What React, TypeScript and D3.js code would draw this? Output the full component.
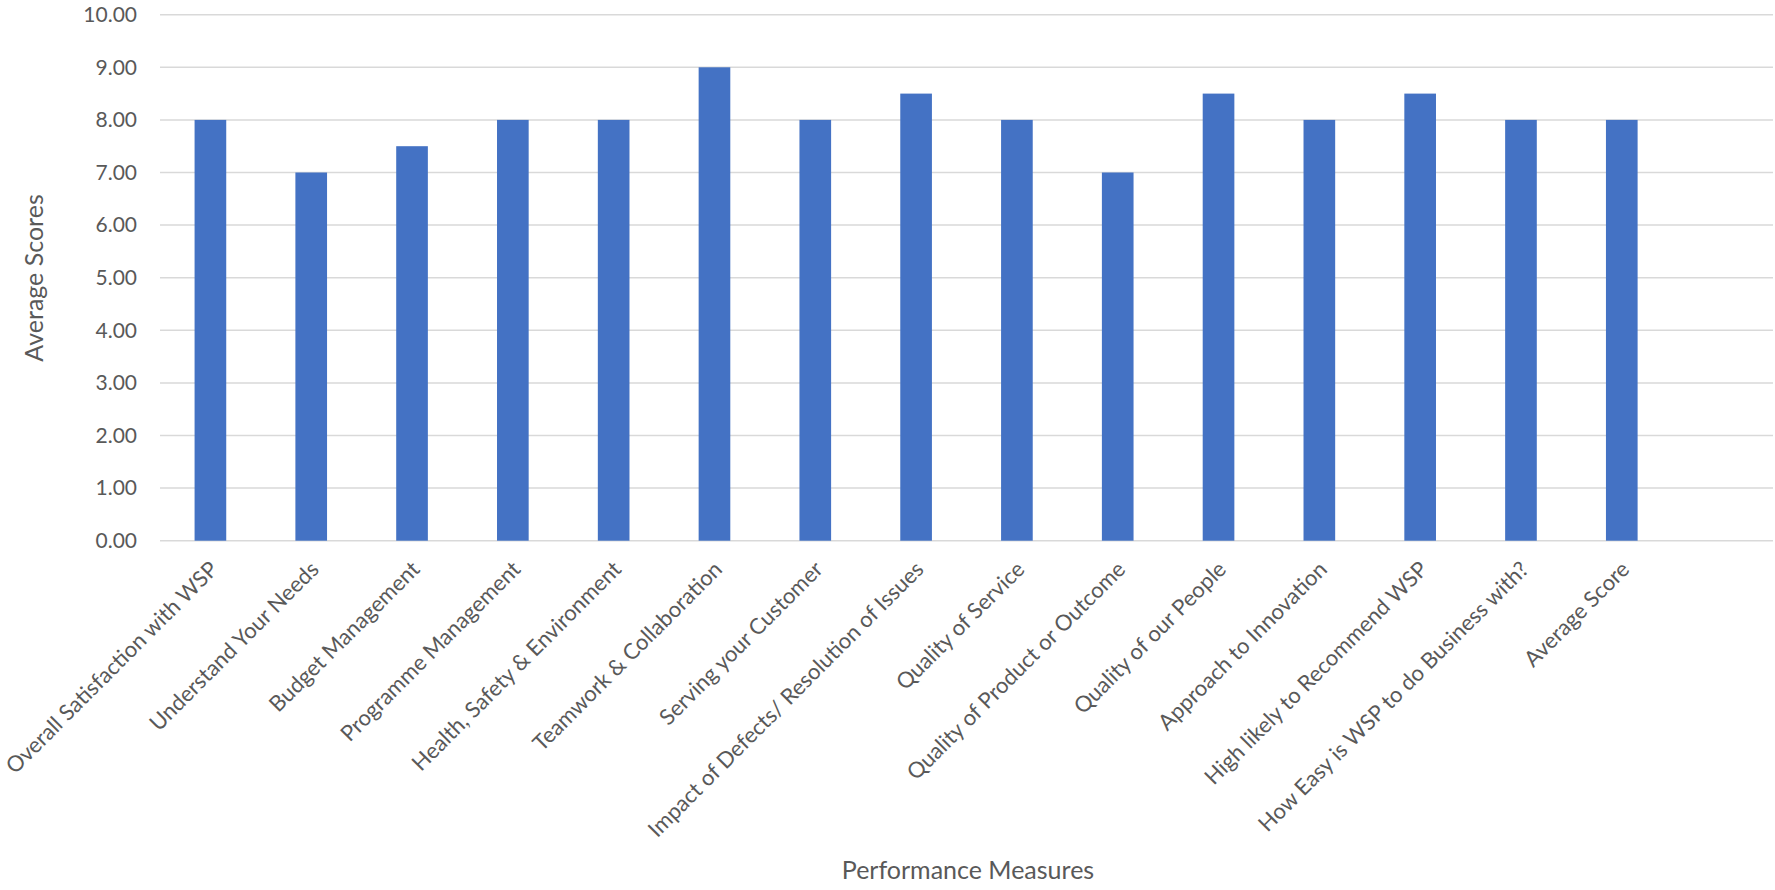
import React, { useEffect, useRef } from 'react';
import * as d3 from 'd3';

// measures along the x axis (the last slot is left empty, as in the source sheet)
const measures = [
  'Overall Satisfaction with WSP',
  'Understand Your Needs',
  'Budget Management',
  'Programme Management',
  'Health, Safety & Environment',
  'Teamwork & Collaboration',
  'Serving your Customer',
  'Impact of Defects/ Resolution of Issues',
  'Quality of Service',
  'Quality of Product or Outcome',
  'Quality of our People',
  'Approach to Innovation',
  'High likely to Recommend WSP',
  'How Easy is WSP to do Business with?',
  'Average Score',
];
const scores = [8, 7, 7.5, 8, 8, 9, 8, 8.5, 8, 7, 8.5, 8, 8.5, 8, 8];
const yTicks = [0, 1, 2, 3, 4, 5, 6, 7, 8, 9, 10];

const W = 1775;
const H = 890;
const FONT = 'Lato, "Open Sans", sans-serif';
const TEXT = '#595959';

export default function App() {
  const ref = useRef<SVGSVGElement>(null);

  useEffect(() => {
    const svg = d3.select(ref.current);
    svg.selectAll('*').remove();

    const margin = { top: 14.7, right: 2, bottom: 349.3, left: 160 };
    const plotW = W - margin.left - margin.right;
    const plotH = H - margin.top - margin.bottom;

    const slots = measures.concat(['']);
    const x = d3.scaleBand().domain(slots).range([0, plotW]).paddingInner(0.686).paddingOuter(0.343);
    const y = d3.scaleLinear().domain([0, 10]).range([plotH, 0]);

    const g = svg.append('g').attr('transform', `translate(${margin.left},${margin.top})`);

    // gridlines
    g.selectAll('.grid')
      .data(yTicks)
      .enter().append('line')
      .attr('class', 'grid')
      .attr('x1', 0)
      .attr('x2', plotW)
      .attr('y1', d => y(d))
      .attr('y2', d => y(d))
      .attr('stroke', '#d9d9d9')
      .attr('stroke-width', 1.5);

    // y tick labels
    g.selectAll('.ylab')
      .data(yTicks)
      .enter().append('text')
      .attr('class', 'ylab')
      .attr('x', -23)
      .attr('y', d => y(d))
      .attr('dy', '0.35em')
      .attr('text-anchor', 'end')
      .attr('fill', TEXT)
      .style('font-family', FONT)
      .style('font-size', '21px')
      .text(d => d3.format('.2f')(d));

    // bars
    g.selectAll('.bar')
      .data(scores)
      .enter().append('rect')
      .attr('class', 'bar')
      .attr('x', (d, i) => x(measures[i]) as number)
      .attr('width', x.bandwidth())
      .attr('y', d => y(d))
      .attr('height', d => plotH - y(d))
      .attr('fill', '#4472c4');

    // category labels
    g.selectAll('.xlab')
      .data(measures)
      .enter().append('text')
      .attr('class', 'xlab')
      .attr('transform', d => `translate(${(x(d) as number) + x.bandwidth() / 2 + 9},${plotH + 30}) rotate(-45)`)
      .attr('text-anchor', 'end')
      .attr('fill', TEXT)
      .style('font-family', FONT)
      .style('font-size', '22px')
      .text(d => d);

    // axis titles
    svg.append('text')
      .attr('transform', `translate(43,278) rotate(-90)`)
      .attr('text-anchor', 'middle')
      .attr('fill', TEXT)
      .style('font-family', FONT)
      .style('font-size', '25px')
      .text('Average Scores');

    svg.append('text')
      .attr('x', 968)
      .attr('y', 879)
      .attr('text-anchor', 'middle')
      .attr('fill', TEXT)
      .style('font-family', FONT)
      .style('font-size', '25px')
      .text('Performance Measures');
  }, []);

  return (
    <div style={{ position: 'absolute', left: 0, top: 0, background: '#fff' }}>
      <svg ref={ref} width={W} height={H} style={{ display: 'block' }} />
    </div>
  );
}
